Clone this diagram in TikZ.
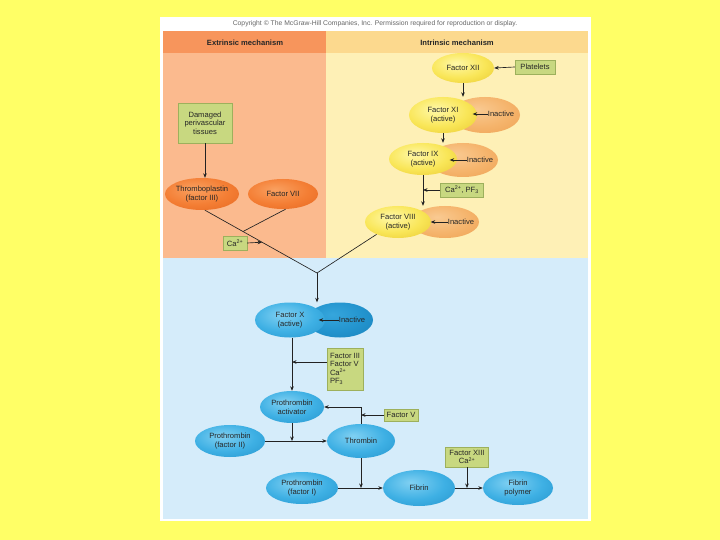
\documentclass[tikz,border=0pt]{standalone}
\usepackage{fontspec}
\setsansfont{Liberation Sans}
\usetikzlibrary{shapes.geometric,arrows.meta,calc}
\definecolor{bgyellow}{HTML}{FFFF66}
\definecolor{exthead}{HTML}{F7955C}
\definecolor{extbody}{HTML}{FBBA8E}
\definecolor{inthead}{HTML}{FCD98E}
\definecolor{intbody}{HTML}{FEF0B6}
\definecolor{bluebody}{HTML}{D5ECFA}
\definecolor{greenfill}{HTML}{C8D880}
\definecolor{greenline}{HTML}{9DB05C}
\definecolor{linecol}{HTML}{222222}
\definecolor{txtcol}{HTML}{262626}
\definecolor{yin}{HTML}{FFF8A8}
\definecolor{ymid}{HTML}{F9E658}
\definecolor{yout}{HTML}{E2BC1E}
\definecolor{oin}{HTML}{F9A060}
\definecolor{omid}{HTML}{F47E34}
\definecolor{oout}{HTML}{DF5E18}
\definecolor{lin}{HTML}{F9CA92}
\definecolor{lmid}{HTML}{F5B46C}
\definecolor{lout}{HTML}{EB9A48}
\definecolor{bin}{HTML}{80D0F2}
\definecolor{bmid}{HTML}{3EB0E4}
\definecolor{bout}{HTML}{1A88C2}
\definecolor{din}{HTML}{36A6DC}
\definecolor{dmid}{HTML}{2394CE}
\definecolor{dout}{HTML}{157AB2}
\pgfdeclareradialshading{yelshade}{\pgfpoint{-6bp}{8bp}}{color(0bp)=(yin); color(22bp)=(ymid); color(50bp)=(yout); color(80bp)=(yout)}
\pgfdeclareradialshading{orshade}{\pgfpoint{-6bp}{8bp}}{color(0bp)=(oin); color(22bp)=(omid); color(50bp)=(oout); color(80bp)=(oout)}
\pgfdeclareradialshading{loshade}{\pgfpoint{-6bp}{8bp}}{color(0bp)=(lin); color(22bp)=(lmid); color(50bp)=(lout); color(80bp)=(lout)}
\pgfdeclareradialshading{blshade}{\pgfpoint{-6bp}{8bp}}{color(0bp)=(bin); color(22bp)=(bmid); color(50bp)=(bout); color(80bp)=(bout)}
\pgfdeclareradialshading{dbshade}{\pgfpoint{-6bp}{8bp}}{color(0bp)=(din); color(22bp)=(dmid); color(50bp)=(dout); color(80bp)=(dout)}
\newcommand\mylbl{\sffamily\fontsize{7.6}{8.6}\selectfont}
\begin{document}
\begin{tikzpicture}[x=1pt,y=-1pt,
  ell/.style={ellipse, inner xsep=-4pt, inner ysep=-2pt, align=center, font=\mylbl, text=txtcol},
  yell/.style={ell, shade, shading=yelshade},
  oell/.style={ell, shade, shading=orshade},
  loell/.style={ell, shade, shading=loshade},
  bell/.style={ell, shade, shading=blshade},
  dbell/.style={ell, shade, shading=dbshade},
  gbox/.style={rectangle, fill=greenfill, draw=greenline, line width=0.4pt, inner sep=1pt, align=center, font=\mylbl, text=txtcol},
  txt/.style={inner sep=0pt, font=\mylbl, text=txtcol},
  ln/.style={draw=linecol, line width=0.65pt},
  arr/.style={ln, -{Stealth[length=4.5pt,width=3.6pt]}}]
\useasboundingbox (0,0) rectangle (720,540);
\fill[bgyellow] (0,0) rectangle (720,540);
% panel
\fill[white] (160,17) rectangle (591,521);
\fill[exthead] (163,31) rectangle (326,53);
\fill[inthead] (326,31) rectangle (588,53);
\fill[extbody] (163,53) rectangle (326,258);
\fill[intbody] (326,53) rectangle (588,258);
\fill[bluebody] (163,258) rectangle (588,519);
\node[txt, font=\sffamily\fontsize{6.8}{7.5}\selectfont, text=black!60] (copy) at (375,24) {Copyright \textcopyright{} The McGraw-Hill Companies, Inc. Permission required for reproduction or display.};
\node[txt, font=\sffamily\bfseries\fontsize{7.6}{8.6}\selectfont] (exth) at (245,43) {Extrinsic mechanism};
\node[txt, font=\sffamily\bfseries\fontsize{7.6}{8.6}\selectfont] (inth) at (457,43) {Intrinsic mechanism};
% extrinsic
\node[gbox, minimum width=54pt, minimum height=40pt] (dam) at (205,123) {Damaged\\perivascular\\tissues};
\node[oell, minimum width=74pt, minimum height=32pt] (thr) at (202,194) {Thromboplastin\\(factor III)};
\node[oell, minimum width=70pt, minimum height=30pt] (f7) at (283,194) {Factor VII};
\node[gbox, minimum width=24pt, minimum height=14pt] (ca1) at (235,243) {Ca\textsuperscript{2+}};
\coordinate (conv) at (317,273);
\draw[arr] (dam.south) -- (dam.south |- thr.north);
\draw[ln] (thr.-80) -- (conv);
\coordinate (m1) at ($(thr.-80)!0.34!(conv)$);
\coordinate (m2) at ($(thr.-80)!0.51!(conv)$);
\draw[ln] (f7.-80) -- (m1);
\draw[arr] (ca1.east) -- (m2);
% intrinsic
\node[yell, minimum width=62pt, minimum height=30pt] (xii) at (463,68) {Factor XII};
\node[gbox, minimum width=40pt, minimum height=14pt] (plt) at (535,67) {Platelets};
\draw[arr] (plt.west) -- (xii.east);
\node[loell, minimum width=70pt, minimum height=36pt] (xiin) at (485,115) {};
\node[yell, minimum width=68pt, minimum height=36pt] (xi) at (443,115) {Factor XI\\(active)};
\node[txt] (xiit) at (501,114) {Inactive};
\draw[arr] (xiit.west) -- ++(-15,0);
\draw[arr] (xii.south) -- (xii.south |- xi.north);
\node[loell, minimum width=70pt, minimum height=34pt] (ixin) at (463,160) {};
\node[yell, minimum width=68pt, minimum height=32pt] (ix) at (423,159) {Factor IX\\(active)};
\node[txt] (ixit) at (480,160) {Inactive};
\draw[arr] (ixit.west) -- ++(-17,0);
\draw[arr] (xi.south) -- (xi.south |- ix.north);
\node[gbox, minimum width=43pt, minimum height=14pt] (capf) at (462,190) {Ca\textsuperscript{2+}, PF\textsubscript{3}};
\node[loell, minimum width=68pt, minimum height=32pt] (viiiin) at (445,222) {};
\node[yell, minimum width=66pt, minimum height=32pt] (viii) at (398,222) {Factor VIII\\(active)};
\node[txt] (viiiit) at (461,222) {Inactive};
\draw[arr] (viiiit.west) -- ++(-17,0);
\draw[arr] (ix.south) -- (ix.south |- viii.north);
\draw[arr] (capf.west) -- (capf.west -| ix.south);
\draw[ln] (viii.-150) -- (conv);
% common pathway
\node[dbell, minimum width=66pt, minimum height=35pt] (fxin) at (340,320) {};
\node[bell, minimum width=70pt, minimum height=35pt] (fx) at (290,320) {Factor X\\(active)};
\node[txt] (fxit) at (352,320) {Inactive};
\draw[arr] (fxit.west) -- ++(-20,0);
\draw[arr] (conv) -- (conv |- fx.north);
\node[gbox, align=left, minimum width=36pt, minimum height=42pt] (b35) at (345,369) {Factor III\\Factor V\\Ca\textsuperscript{2+}\\PF\textsubscript{3}};
\node[bell, minimum width=64pt, minimum height=32pt] (pa) at (292,407) {Prothrombin\\activator};
\draw[arr] (pa.north |- fx.south) -- (pa.north);
\draw[arr] ([yshift=7pt]b35.west) -- ([yshift=7pt]b35.west -| pa.north);
\node[gbox, minimum width=34pt, minimum height=12pt] (fv) at (401,415) {Factor V};
\node[bell, minimum width=68pt, minimum height=34pt] (thb) at (361,441) {Thrombin};
\draw[arr] (thb.north) -- (thb.north |- pa.east) -- (pa.east);
\draw[arr] (fv.west) -- (fv.west -| thb.north);
\node[bell, minimum width=70pt, minimum height=32pt] (p2) at (230,441) {Prothrombin\\(factor II)};
\draw[arr] (p2.east) -- (thb.west);
\draw[arr] (pa.south) -- (pa.south |- p2.east);
\node[bell, minimum width=72pt, minimum height=32pt] (p1) at (302,488) {Prothrombin\\(factor I)};
\node[bell, minimum width=72pt, minimum height=36pt] (fib) at (419,488) {Fibrin};
\node[bell, minimum width=70pt, minimum height=34pt] (fp) at (518,488) {Fibrin\\polymer};
\node[gbox, minimum width=43pt, minimum height=20pt] (f13) at (467,457) {Factor XIII\\Ca\textsuperscript{2+}};
\draw[arr] (p1.east) -- (fib.west);
\draw[arr] (thb.south) -- (thb.south |- fib.west);
\draw[arr] (fib.east) -- (fp.west);
\draw[arr] (f13.south) -- (f13.south |- fib.east);
\end{tikzpicture}
\end{document}
